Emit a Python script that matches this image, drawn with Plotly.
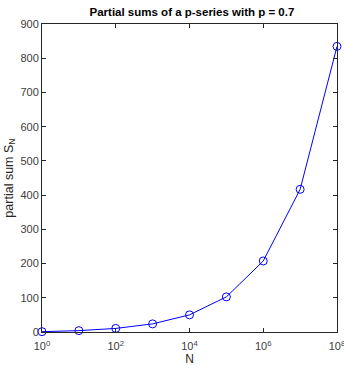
import plotly.graph_objects as go

N_values = [1, 10, 100, 1000, 1e4, 1e5, 1e6, 1e7, 1e8]
partial_sums = [1.0, 3.97, 10.5, 23.7, 50.1, 102.6, 207.5, 416.9, 834.5]
x_tick_vals = [1, 1e2, 1e4, 1e6, 1e8]
x_tick_text = ["10<sup>0</sup>", "10<sup>2</sup>", "10<sup>4</sup>", "10<sup>6</sup>", "10<sup>8</sup>"]
y_tick_vals = [0, 100, 200, 300, 400, 500, 600, 700, 800, 900]

fig = go.Figure()
fig.add_trace(go.Scatter(
    x=N_values, y=partial_sums, mode="lines+markers",
    line=dict(color="#0000ff", width=1),
    marker=dict(symbol="circle-open", size=8, color="#0000ff", line=dict(width=1)),
    showlegend=False, cliponaxis=False,
))

axis_common = dict(showline=True, linecolor="#262626", linewidth=1, mirror="ticks",
                   ticks="inside", ticklen=4, tickcolor="#262626", showgrid=False,
                   zeroline=False, ticklabeloverflow="allow", automargin=False,
                   tickfont=dict(family="Liberation Sans, Arial", size=11, color="#404040"))

fig.update_layout(
    width=344, height=371,
    margin=dict(l=42, r=7, t=24, b=39),
    paper_bgcolor="white", plot_bgcolor="white",
    font=dict(family="Liberation Sans, Arial", color="#262626"),
    title=dict(text="<b>Partial sums of a p-series with p = 0.7</b>", x=0.558, xanchor="center",
               y=0.967, yanchor="middle", automargin=False, font=dict(size=11.5, color="black")),
    xaxis=dict(type="log", range=[0, 8], tickvals=x_tick_vals, ticktext=x_tick_text,
               ticklabelstandoff=4,
               title=dict(text="N", font=dict(size=12), standoff=2), **axis_common),
    yaxis=dict(range=[0, 900], tickvals=y_tick_vals,
               title=dict(text="partial sum S<sub>N</sub>", font=dict(size=12.5), standoff=4), **axis_common),
)

fig.write_html("out.html", config={"displayModeBar": False},
               post_script="document.body.style.margin='0';document.body.style.overflow='hidden';")
